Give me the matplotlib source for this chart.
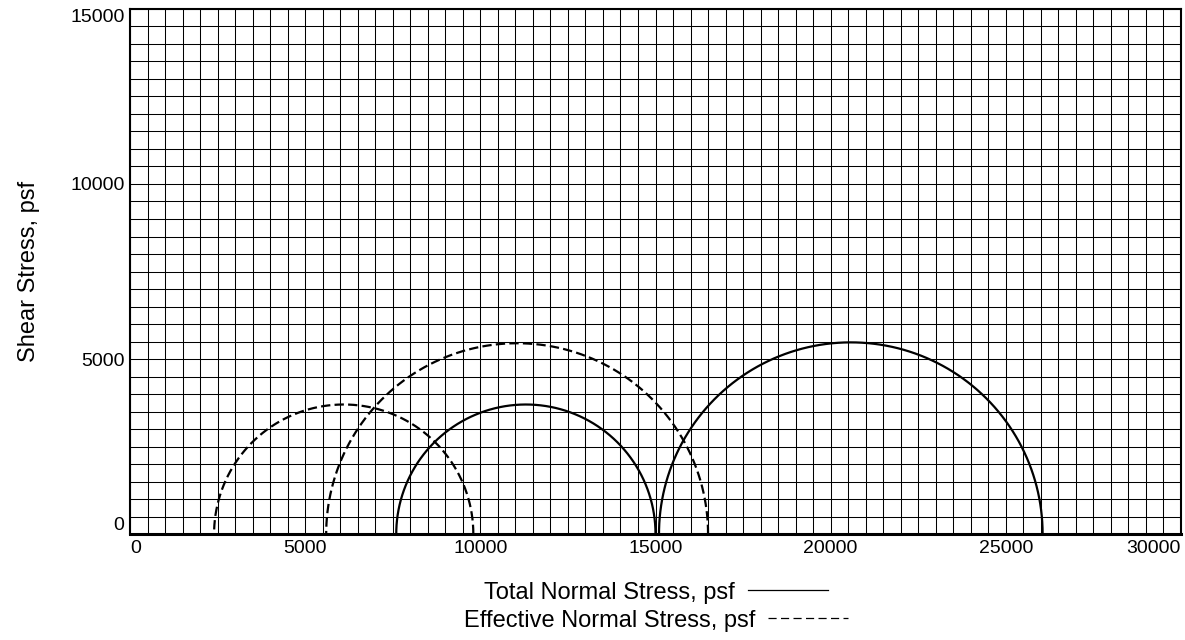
import numpy as np
import matplotlib
matplotlib.use("Agg")
import matplotlib.pyplot as plt
from matplotlib.lines import Line2D

plt.rcParams['font.family'] = ['Liberation Sans', 'DejaVu Sans']

# Mohr circles, principal stresses (psf)
total_sigma3 = [7600, 15100]
total_sigma1 = [15000, 26050]
eff_sigma3 = [2400, 5600]
eff_sigma1 = [9800, 16500]

x_ticks = [0, 5000, 10000, 15000, 20000, 25000, 30000]
y_ticks = [0, 5000, 10000, 15000]
grid_step = 500

W, H = 1185, 640
fig = plt.figure(figsize=(W / 100, H / 100), dpi=100)
ax = fig.add_axes([130 / W, (H - 534) / H, (1181 - 130) / W, (534 - 9) / H])

ax.set_xlim(0, 30000)
ax.set_ylim(0, 15000)

# grid every 500 psf
ax.set_xticks(np.arange(0, 30001, grid_step), minor=True)
ax.set_yticks(np.arange(0, 15001, grid_step), minor=True)
ax.set_xticks(x_ticks)
ax.set_yticks(y_ticks)
ax.grid(which='both', color='black', linewidth=0.75)
ax.set_axisbelow(True)
ax.tick_params(which='both', length=0, labelsize=14, pad=4)

xl = ax.set_xticklabels([str(v) for v in x_ticks])
xl[0].set_ha('left')
xl[-1].set_ha('right')
yl = ax.set_yticklabels([str(v) for v in y_ticks])
yl[0].set_va('bottom')
yl[-1].set_va('top')

for s in ['top', 'right', 'left']:
    ax.spines[s].set_linewidth(1.5)
ax.spines['bottom'].set_linewidth(2.2)

ax.set_ylabel('Shear Stress, psf', fontsize=17, labelpad=22)

theta = np.linspace(0, np.pi, 400)


def circle(s3, s1, **kw):
    c = (s1 + s3) / 2
    r = (s1 - s3) / 2
    ax.plot(c + r * np.cos(theta), r * np.sin(theta), color='black', clip_on=False, **kw)


for s3, s1 in zip(total_sigma3, total_sigma1):
    circle(s3, s1, linewidth=1.6, linestyle='-')
for s3, s1 in zip(eff_sigma3, eff_sigma1):
    circle(s3, s1, linewidth=1.6, linestyle=(0, (4.2, 1.9)))

# legend rows below the axes
renderer = fig.canvas.get_renderer()
rows = [('Total Normal Stress, psf', '-', 593),
        ('Effective Normal Stress, psf', (0, (6.5, 3.5)), 621)]
cx = 656
gap, L = 13, 80
for label, ls, ypix in rows:
    t = fig.text(0, 1 - ypix / H, label, fontsize=17, ha='left', va='center')
    w = t.get_window_extent(renderer).width
    x0 = cx - (w + gap + L) / 2
    t.set_x(x0 / W)
    lx = x0 + w + gap
    fig.add_artist(Line2D([lx / W, (lx + L) / W], [1 - (ypix - 3) / H] * 2,
                          color='black', linewidth=0.9, linestyle=ls))

fig.savefig('out.png', dpi=100)
